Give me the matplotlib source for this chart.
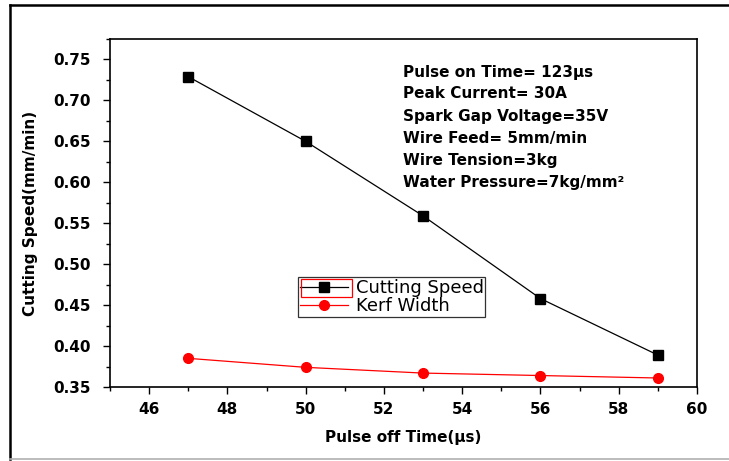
import matplotlib
matplotlib.use("Agg")
import matplotlib.pyplot as plt
from matplotlib.lines import Line2D
from matplotlib.patches import Rectangle
from matplotlib.ticker import MultipleLocator

plt.rcParams['font.family'] = ['DejaVu Sans']

# data
pulse_off = [47, 50, 53, 56, 59]
cutting_speed = [0.729, 0.650, 0.559, 0.458, 0.389]
kerf_width = [0.385, 0.374, 0.367, 0.364, 0.361]

notes = ["Pulse on Time= 123\u03bcs",
         "Peak Current= 30A",
         "Spark Gap Voltage=35V",
         "Wire Feed= 5mm/min",
         "Wire Tension=3kg",
         "Water Pressure=7kg/mm\u00b2"]

fig = plt.figure(figsize=(7.29, 4.61), dpi=100)
ax = fig.add_axes([110/729, 1 - 387/461, 587/729, 348/461])

ax.plot(pulse_off, cutting_speed, color='black', lw=0.9, marker='s',
        markersize=6.5, label='Cutting Speed')
ax.plot(pulse_off, kerf_width, color='red', lw=0.9, marker='o',
        markersize=7, label='Kerf Width')

ax.set_xlim(45, 60)
ax.set_ylim(0.35, 0.775)
ax.xaxis.set_major_locator(MultipleLocator(2))
ax.xaxis.set_minor_locator(MultipleLocator(1))
ax.yaxis.set_major_locator(MultipleLocator(0.05))
ax.yaxis.set_minor_locator(MultipleLocator(0.025))
ax.yaxis.set_major_formatter(plt.FormatStrFormatter('%.2f'))
ax.tick_params(which='major', direction='out', length=5, width=1,
               labelsize=11, pad=6)
ax.tick_params(axis='y', which='major', pad=9)
ax.tick_params(which='minor', direction='out', length=3, width=1)
for lab in ax.get_xticklabels() + ax.get_yticklabels():
    lab.set_fontweight('bold')
for sp in ax.spines.values():
    sp.set_linewidth(1.2)

ax.set_xlabel('Pulse off Time(\u03bcs)', fontsize=11, fontweight='bold', labelpad=9)
ax.set_ylabel('Cutting Speed(mm/min)', fontsize=11, fontweight='bold', labelpad=11)

# parameter notes
for i, t in enumerate(notes):
    fig.text(403/729, 1 - (72 + i * 22)/461, t, fontsize=11,
             fontweight='bold', va='center', ha='left')

leg = ax.legend(loc='upper left', bbox_to_anchor=(0.32, 0.316), fontsize=13,
                frameon=True, fancybox=False, edgecolor='black',
                borderpad=0.1, labelspacing=0.0, handlelength=2.7,
                handletextpad=0.4, borderaxespad=0)
leg.get_frame().set_linewidth(0.9)

# red box round the first legend handle, as in the original
fig.canvas.draw()
lb = leg.get_window_extent()
t0 = leg.get_texts()[0].get_window_extent()
t1 = leg.get_texts()[1].get_window_extent()
inv = fig.transFigure.inverted()
ymid = (t0.y0 + t1.y1) / 2
(x0, y0), (x1, y1) = inv.transform([(lb.x0 + 3, ymid), (t0.x0 - 4, lb.y1 - 2)])
fig.add_artist(Rectangle((x0, y0), x1 - x0, y1 - y0, fill=False,
                         edgecolor='red', lw=0.9, transform=fig.transFigure))

# outer frame of the figure
fig.add_artist(Line2D([10/729, 10/729], [2/461, 1 - 5/461], color='black',
                      lw=1.8, transform=fig.transFigure))
fig.add_artist(Line2D([10/729, 1], [1 - 5/461, 1 - 5/461], color='black',
                      lw=1.8, transform=fig.transFigure))
fig.add_artist(Line2D([10/729, 1], [2/461, 2/461], color='#b0b0b0',
                      lw=1.2, transform=fig.transFigure))

fig.savefig('out.png', dpi=100)
